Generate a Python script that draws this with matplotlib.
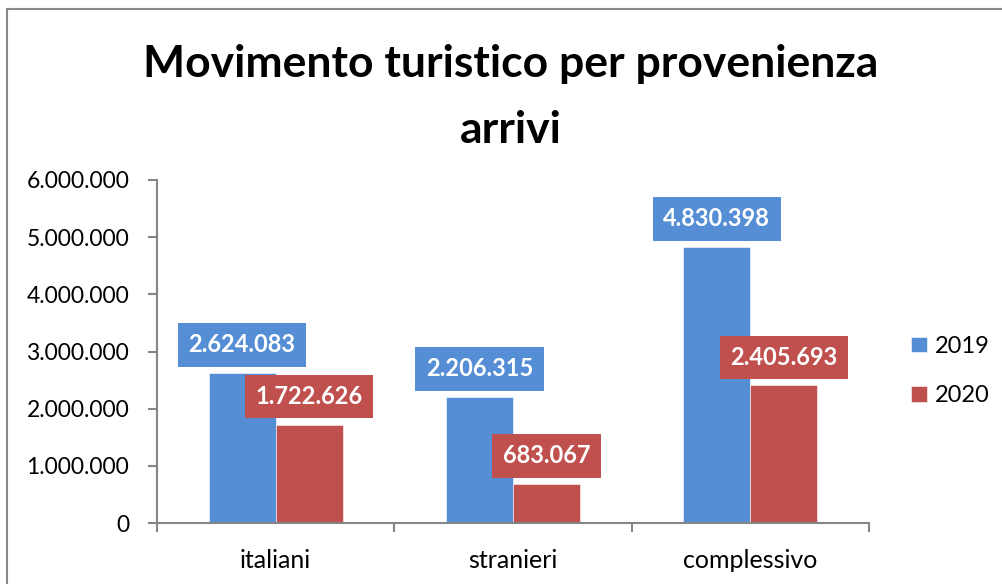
import matplotlib

matplotlib.use("Agg")
import matplotlib.pyplot as plt
from matplotlib.patches import Rectangle
from matplotlib.ticker import FuncFormatter
import numpy as np

categories = ["italiani", "stranieri", "complessivo"]
series_names = ["2019", "2020"]
arrivi_2019 = [2624083, 2206315, 4830398]
arrivi_2020 = [1722626, 683067, 2405693]
y_ticks = [0, 1000000, 2000000, 3000000, 4000000, 5000000, 6000000]
title_lines = ["Movimento turistico per provenienza", "arrivi"]

BLUE = "#558ED5"
RED = "#C0504D"
GREY = "#868686"

plt.rcParams["font.family"] = ["Lato", "DejaVu Sans"]


def dotted(v, _pos=None):
    return f"{int(v):,}".replace(",", ".")


W, H = 1003, 584
fig = plt.figure(figsize=(W / 100, H / 100), dpi=100)
fig.patches.append(
    Rectangle((7 / W, -0.1), 1.2, (H - 9) / H + 0.1, transform=fig.transFigure,
              fill=False, edgecolor="#898989", linewidth=1.5)
)

ax = fig.add_axes([157 / W, (H - 523) / H, (869 - 157) / W, (523 - 180) / H])
x = np.arange(len(categories))
width = 67 / 237
b1 = ax.bar(x - width / 2, arrivi_2019, width, color=BLUE, edgecolor="white", linewidth=0.4, label=series_names[0])
b2 = ax.bar(x + width / 2, arrivi_2020, width, color=RED, edgecolor="white", linewidth=0.4, label=series_names[1])

for bars, values, col in [(b1, arrivi_2019, BLUE), (b2, arrivi_2020, RED)]:
    for rect, v in zip(bars, values):
        ax.annotate(
            dotted(v),
            (rect.get_x() + rect.get_width() / 2, v),
            xytext=(0, 28),
            textcoords="offset pixels",
            ha="center",
            va="center",
            color="white",
            fontsize=17,
            fontweight="bold",
            bbox=dict(boxstyle="square,pad=0.44", facecolor=col, edgecolor="none"),
            zorder=5,
        )

ax.set_ylim(0, 6000000)
ax.set_xlim(-0.5, 2.5)
ax.set_yticks(y_ticks)
ax.yaxis.set_major_formatter(FuncFormatter(dotted))
ax.set_xticks([-0.5, 0.5, 1.5, 2.5])
ax.set_xticklabels([])
ax.set_xticks(x, minor=True)
ax.set_xticklabels(categories, minor=True)
ax.tick_params(axis="x", which="major", length=6.5, color=GREY, width=1.5, direction="out")
ax.tick_params(axis="x", which="minor", length=0, pad=19, labelsize=18)
ax.tick_params(axis="y", length=6.5, color=GREY, width=1.5, direction="out", labelsize=16.5, pad=13.5)
for s in ["top", "right"]:
    ax.spines[s].set_visible(False)
for s in ["left", "bottom"]:
    ax.spines[s].set_color(GREY)
    ax.spines[s].set_linewidth(1.5)

fig.legend(
    handles=[b1, b2],
    labels=series_names,
    loc="center left",
    bbox_to_anchor=(890 / W, (H - 371) / H),
    frameon=False,
    fontsize=17,
    handlelength=0.65,
    handleheight=0.65,
    handletextpad=0.35,
    labelspacing=1.2,
)

fig.text(511 / W, (H - 77) / H, title_lines[0], ha="center", va="baseline",
         fontsize=32, fontweight="bold")
fig.text(511 / W, (H - 143) / H, title_lines[1], ha="center", va="baseline",
         fontsize=32, fontweight="bold")

fig.savefig("out.png", dpi=100)
